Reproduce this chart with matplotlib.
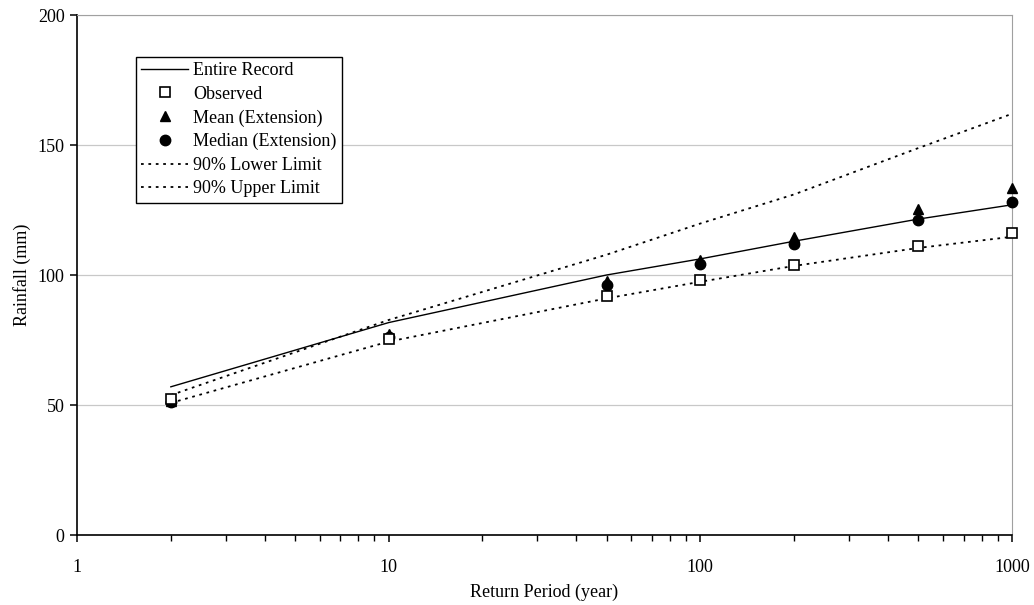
import matplotlib
matplotlib.use("Agg")
import matplotlib.pyplot as plt

plt.rcParams['font.family'] = ['Liberation Serif', 'DejaVu Serif']

# return periods (years)
periods = [2, 10, 50, 100, 200, 500, 1000]

# rainfall depths (mm)
entire_record = [57.0, 81.7, 100.0, 106.2, 113.0, 121.5, 127.0]
observed = [52.5, 75.4, 91.9, 98.0, 103.8, 111.2, 116.3]
mean_ext = [51.5, 77.5, 97.8, 105.8, 114.5, 125.3, 133.6]
median_ext = [51.0, 76.2, 96.3, 104.2, 112.0, 121.2, 128.0]
lower_90 = [50.8, 74.4, 91.0, 97.4, 103.5, 110.4, 114.7]
upper_90 = [53.8, 82.7, 107.8, 119.8, 131.0, 148.8, 162.0]

fig = plt.figure(figsize=(10.34, 6.05), dpi=100)
ax = fig.add_axes([0.0745, 0.1157, 0.9042, 0.8595])

dot = (0, (1.5, 2.6))
ax.plot(periods, entire_record, color='black', lw=1.0, label='Entire Record', zorder=3)
ax.plot(periods, mean_ext, ls='none', marker='^', ms=7.5, color='black',
        label='Mean (Extension)', zorder=4, clip_on=False)
ax.plot(periods, median_ext, ls='none', marker='o', ms=7.5, color='black',
        label='Median (Extension)', zorder=5, clip_on=False)
ax.plot(periods, lower_90, color='black', lw=1.3, ls=dot, label='90% Lower Limit', zorder=3)
ax.plot(periods, upper_90, color='black', lw=1.3, ls=dot, label='90% Upper Limit', zorder=3)
ax.plot(periods, observed, ls='none', marker='s', ms=7, mfc='white', mec='black',
        mew=1.2, label='Observed', zorder=6, clip_on=False)

ax.set_xscale('log')
ax.set_xlim(1, 1000)
ax.set_ylim(0, 200)
ax.set_yticks([0, 50, 100, 150, 200])
ax.set_xticks([1, 10, 100, 1000])
ax.set_xticklabels(['1', '10', '100', '1000'])
ax.yaxis.grid(True, color='#c8c8c8', lw=0.9)
ax.set_axisbelow(True)

for side in ['top', 'right']:
    ax.spines[side].set_color('#a0a0a0')
ax.spines['left'].set_linewidth(1.2)
ax.spines['bottom'].set_linewidth(1.2)

ax.tick_params(axis='both', labelsize=13, direction='out', length=5, width=1.1)
ax.tick_params(axis='x', which='minor', length=4, width=1.0)
ax.tick_params(axis='x', pad=12)
ax.tick_params(axis='y', pad=4)

ax.set_xlabel('Return Period (year)', fontsize=13, labelpad=6)
ax.set_ylabel('Rainfall (mm)', fontsize=13, labelpad=5)

handles, labels = ax.get_legend_handles_labels()
order = ['Entire Record', 'Observed', 'Mean (Extension)', 'Median (Extension)',
         '90% Lower Limit', '90% Upper Limit']
hmap = dict(zip(labels, handles))
leg = ax.legend([hmap[k] for k in order], order, loc='upper left',
                bbox_to_anchor=(0.063, 0.9195), fontsize=13, frameon=True,
                fancybox=False, edgecolor='black', framealpha=1,
                handlelength=2.6, handletextpad=0.25, labelspacing=0.36,
                borderpad=0.3, borderaxespad=0)
leg.get_frame().set_linewidth(1.0)

fig.savefig('out.png', dpi=100)
